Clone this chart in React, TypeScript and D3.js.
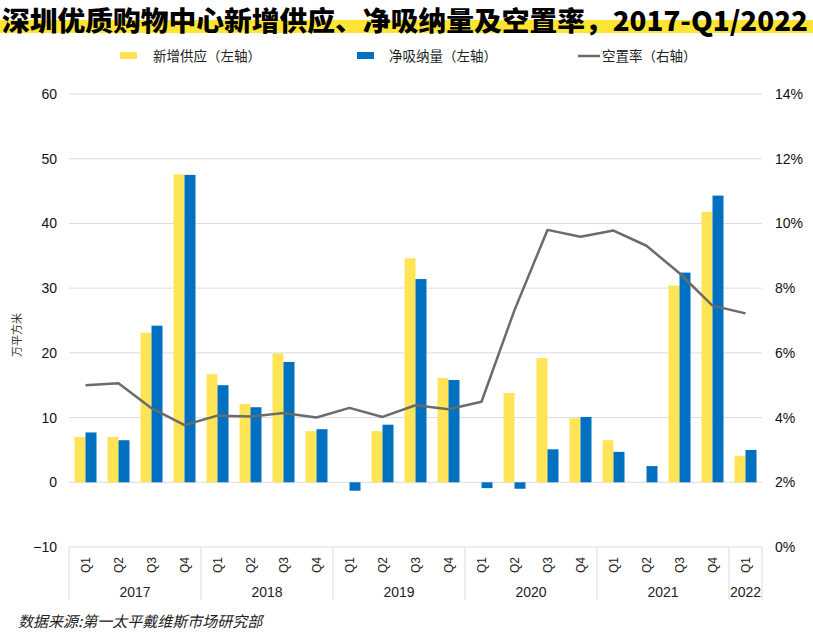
import React from 'react';
import * as d3 from 'd3';

const years = ['2017', '2018', '2019', '2020', '2021', '2022'];
const quarters = [
  '2017Q1', '2017Q2', '2017Q3', '2017Q4',
  '2018Q1', '2018Q2', '2018Q3', '2018Q4',
  '2019Q1', '2019Q2', '2019Q3', '2019Q4',
  '2020Q1', '2020Q2', '2020Q3', '2020Q4',
  '2021Q1', '2021Q2', '2021Q3', '2021Q4',
  '2022Q1',
];
// 新增供应（左轴）
const newSupply = [7.0, 7.0, 23.1, 47.6, 16.7, 12.1, 19.9, 7.9, 0, 7.9, 34.6, 16.1, 0, 13.8, 19.2, 9.9, 6.5, 0, 30.4, 41.8, 4.1];
// 净吸纳量（左轴）
const netAbsorption = [7.7, 6.5, 24.2, 47.5, 15.0, 11.6, 18.6, 8.2, -1.3, 8.9, 31.4, 15.8, -0.9, -1.0, 5.1, 10.1, 4.7, 2.5, 32.4, 44.3, 5.0];
// 空置率（右轴），%
const vacancy = [5.0, 5.06, 4.29, 3.77, 4.06, 4.03, 4.14, 4.0, 4.3, 4.02, 4.38, 4.26, 4.49, 7.32, 9.8, 9.59, 9.78, 9.31, 8.46, 7.46, 7.22];

const leftTicks = [-10, 0, 10, 20, 30, 40, 50, 60];
const rightTicks = [0, 2, 4, 6, 8, 10, 12, 14];

const YELLOW = '#FFE556';
const BLUE = '#0070C0';
const GREY = '#6B6B6B';
const GRID = '#DCDCDC';
const FONT = '"Liberation Sans", Arial, "Noto Sans CJK SC", sans-serif';
const CJK = '"Noto Sans CJK SC", "Liberation Sans", sans-serif';

export default function App() {
  const width = 813;
  const height = 635;
  const left = 69;
  const right = 762;
  const top = 94;
  const bottom = 547;

  const x = d3.scaleBand<string>().domain(quarters).range([left, right]).paddingInner(0).paddingOuter(0);
  const bw = x.bandwidth();
  const yL = d3.scaleLinear().domain([-10, 60]).range([bottom, top]);
  const yR = d3.scaleLinear().domain([0, 14]).range([bottom, top]);

  const line = d3.line<number>()
    .x((_, i) => (x(quarters[i]) as number) + bw / 2)
    .y(d => yR(d));

  const barW = bw / 3;

  // year groups for the category axis
  const yearGroups = years.map(yr => {
    const qs = quarters.filter(q => q.startsWith(yr));
    const x0 = x(qs[0]) as number;
    const x1 = (x(qs[qs.length - 1]) as number) + bw;
    return { yr, x0, x1 };
  });

  return (
    <div style={{ position: 'absolute', left: 0, top: 0 }}>
      <svg width={width} height={height} style={{ display: 'block', background: '#fff' }}>
        {/* title */}
        <rect x={0} y={20} width={813} height={13} fill="#FFE533" />
        <text x={2} y={31} fontFamily={CJK} fontWeight={900} fontSize={27} fill="#000"
          textLength={806} lengthAdjust="spacingAndGlyphs">
          深圳优质购物中心新增供应、净吸纳量及空置率，2017-Q1/2022
        </text>

        {/* legend */}
        <g fontFamily={CJK} fontSize={13.5} fill="#222">
          <rect x={120} y={52} width={17} height={7} fill={YELLOW} />
          <text x={153} y={61}>新增供应（左轴）</text>
          <rect x={357} y={52} width={17} height={7} fill={BLUE} />
          <text x={389} y={61}>净吸纳量（左轴）</text>
          <line x1={578} x2={600} y1={56} y2={56} stroke={GREY} strokeWidth={2.5} />
          <text x={602} y={61}>空置率（右轴）</text>
        </g>

        {/* gridlines */}
        {leftTicks.filter(t => t >= 0).map(t => (
          <line key={t} x1={left} x2={right} y1={yL(t)} y2={yL(t)} stroke={GRID} strokeWidth={1} />
        ))}

        {/* left ticks */}
        <g fontFamily={FONT} fontSize={14} fill="#111" textAnchor="end">
          {leftTicks.map(t => (
            <text key={t} x={57} y={yL(t) + 5}>{t < 0 ? '\u2212' + Math.abs(t) : t}</text>
          ))}
        </g>
        {/* right ticks */}
        <g fontFamily={FONT} fontSize={14} fill="#111" textAnchor="start">
          {rightTicks.map(t => (
            <text key={t} x={775} y={yR(t) + 5}>{t}%</text>
          ))}
        </g>

        {/* y axis title */}
        <text transform="translate(21,335) rotate(-90)" textAnchor="middle" fontFamily={CJK} fontSize={11} fill="#333">
          万平方米
        </text>

        {/* bars */}
        {quarters.map((q, i) => {
          const cx = (x(q) as number) + bw / 2;
          const a = newSupply[i];
          const b = netAbsorption[i];
          return (
            <g key={q}>
              {a !== 0 && (
                <rect x={cx - barW} y={Math.min(yL(a), yL(0))} width={barW}
                  height={Math.abs(yL(a) - yL(0))} fill={YELLOW} />
              )}
              {b !== 0 && (
                <rect x={cx} y={Math.min(yL(b), yL(0))} width={barW}
                  height={Math.abs(yL(b) - yL(0))} fill={BLUE} />
              )}
            </g>
          );
        })}

        {/* vacancy line */}
        <path d={line(vacancy) || ''} fill="none" stroke={GREY} strokeWidth={2.5} strokeLinejoin="round" />

        {/* category axis box */}
        <line x1={left} x2={right} y1={bottom} y2={bottom} stroke={GRID} strokeWidth={1} />
        {yearGroups.map(g => (
          <line key={'s' + g.yr} x1={g.x0} x2={g.x0} y1={bottom} y2={600} stroke={GRID} strokeWidth={1} />
        ))}
        <line x1={right} x2={right} y1={bottom} y2={600} stroke={GRID} strokeWidth={1} />

        <g fontFamily={FONT} fontSize={12} fill="#222">
          {quarters.map(q => {
            const cx = (x(q) as number) + bw / 2;
            return (
              <text key={'q' + q} transform={`translate(${cx + 4},565) rotate(-90)`} textAnchor="middle">
                {q.slice(4)}
              </text>
            );
          })}
        </g>
        <g fontFamily={FONT} fontSize={14} fill="#222" textAnchor="middle">
          {yearGroups.map(g => (
            <text key={'y' + g.yr} x={(g.x0 + g.x1) / 2} y={597}>{g.yr}</text>
          ))}
        </g>

        {/* source */}
        <text x={18} y={627} fontFamily={CJK} fontSize={15} fontStyle="italic" fill="#222">
          数据来源:第一太平戴维斯市场研究部
        </text>
      </svg>
    </div>
  );
}
